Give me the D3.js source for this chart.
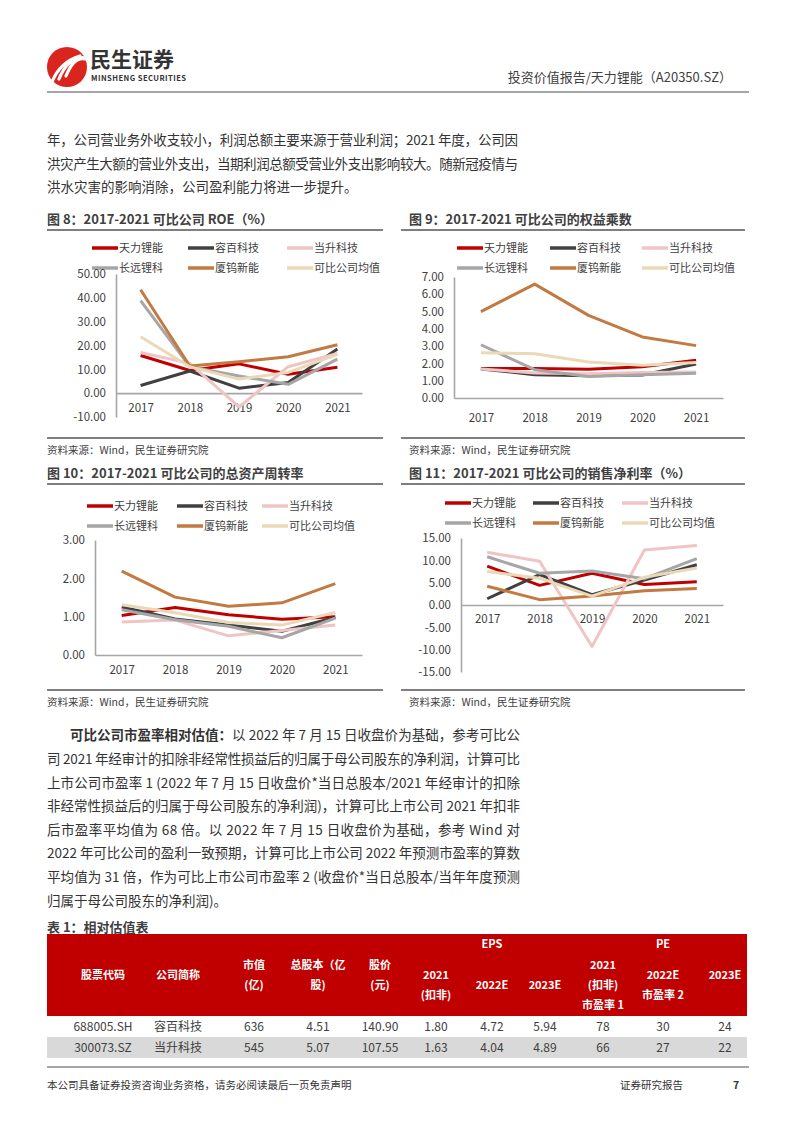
<!DOCTYPE html>
<html>
<head>
<meta charset="utf-8">
<script src="https://cdn.jsdelivr.net/npm/d3@7"></script>
<style>
body { margin: 0; background: #fff; }
svg { display: block; font-family: "Noto Sans CJK SC", "Noto Sans", sans-serif; }
</style>
</head>
<body>
<main></main>
<script>
// ---- data ----
const YEARS = ["2017", "2018", "2019", "2020", "2021"];
const COMPANIES = ["天力锂能", "容百科技", "当升科技", "长远锂科", "厦钨新能", "可比公司均值"];
const COLORS = ["#c00000", "#404040", "#f0c4c4", "#a6a6a6", "#c27a42", "#ead8b6"];

// order follows COMPANIES
const ROE = [
    [15.8, 9.5, 12.3, 7.9, 10.9],
    [3.2, 9.3, 2.1, 4.5, 18.5],
    [17.1, 12.5, -5.8, 11.1, 16.7],
    [38.8, 11.1, 7.2, 3.7, 14.3],
    [43.4, 11.4, 13.2, 15.3, 20.3],
    [23.7, 11.1, 5.9, 8.7, 16.3]
];
const EQUITY_MULT = [
    [1.71, 1.71, 1.66, 1.81, 2.18],
    [1.68, 1.35, 1.29, 1.33, 1.97],
    [1.68, 1.45, 1.41, 1.48, 1.50],
    [3.08, 1.64, 1.25, 1.35, 1.43],
    [5.00, 6.59, 4.78, 3.53, 3.03],
    [2.62, 2.56, 2.08, 1.89, 2.06]
];
const ASSET_TURN = [
    [1.03, 1.24, 1.05, 0.93, 1.00],
    [1.25, 0.94, 0.78, 0.62, 0.98],
    [0.86, 0.91, 0.50, 0.64, 0.78],
    [1.18, 0.92, 0.75, 0.45, 0.96],
    [2.19, 1.51, 1.27, 1.36, 1.86],
    [1.31, 1.10, 0.85, 0.78, 1.11]
];
const NET_MARGIN = [
    [8.7, 4.4, 7.1, 4.6, 5.2],
    [1.4, 6.8, 2.3, 5.6, 9.0],
    [11.8, 9.8, -9.3, 12.3, 13.3],
    [10.8, 7.1, 7.6, 5.9, 10.4],
    [4.2, 1.2, 2.0, 3.2, 3.7],
    [7.5, 6.0, 2.0, 6.2, 8.3]
];

const ROE_TICKS = [-10, 0, 10, 20, 30, 40, 50];
const EM_TICKS = [0, 1, 2, 3, 4, 5, 6, 7];
const AT_TICKS = [0, 1, 2, 3];
const NM_TICKS = [-15, -10, -5, 0, 5, 10, 15];

const TABLE_HEAD = ["股票代码", "公司简称", "市值|(亿)", "总股本（亿|股)", "股价|(元)", "2021|(扣非)", "2022E", "2023E", "2021|(扣非)|市盈率 1", "2022E|市盈率 2", "2023E"];
const TABLE_ROWS = [
    ["688005.SH", "容百科技", "636", "4.51", "140.90", "1.80", "4.72", "5.94", "78", "30", "24"],
    ["300073.SZ", "当升科技", "545", "5.07", "107.55", "1.63", "4.04", "4.89", "66", "27", "22"]
];

const TEXT_DARK = "#404040";
const AXIS_COLOR = "#a6a6a6";

var svg = d3.select("main").append("svg")
            .attr("width", 793)
            .attr("height", 1122);

function drawHeader () {
    // logo
    var logo = svg.append("g");
    logo.append("circle")
        .attr("cx", 67).attr("cy", 67).attr("r", 20)
        .style("fill", "#d9251d");
    [[0, 0], [7, 3], [14, 6]].forEach(function (o) {
        logo.append("path")
            .attr("d", "M" + (52 + o[0]) + "," + (82 - o[1]) +
                       " Q" + (60 + o[0]) + "," + (62 - o[1]) + " " + (80 + o[0] * 0.4) + "," + (56 + o[1] * 0.5))
            .style("fill", "none")
            .style("stroke", "white")
            .style("stroke-width", 3.2)
            .style("stroke-linecap", "round");
    });
    logo.append("text")
        .text("民生证券")
        .attr("x", 90).attr("y", 67)
        .attr("font-size", 21)
        .attr("font-weight", "bold")
        .style("fill", "#333");
    logo.append("text")
        .text("MINSHENG SECURITIES")
        .attr("x", 91).attr("y", 81)
        .attr("font-size", 7.6)
        .attr("font-weight", "bold")
        .attr("textLength", 95)
        .style("fill", "#333");

    svg.append("text")
       .text("投资价值报告/天力锂能（A20350.SZ）")
       .attr("x", 732).attr("y", 82)
       .attr("font-size", 13)
       .style("text-anchor", "end")
       .style("fill", TEXT_DARK);

    svg.append("line")
       .attr("x1", 47).attr("x2", 749).attr("y1", 92).attr("y2", 92)
       .style("stroke", "#888").style("stroke-width", 1.5);

    // footer
    svg.append("line")
       .attr("x1", 47).attr("x2", 749).attr("y1", 1067).attr("y2", 1067)
       .style("stroke", "#888").style("stroke-width", 1.5);
    svg.append("text")
       .text("本公司具备证券投资咨询业务资格，请务必阅读最后一页免责声明")
       .attr("x", 47).attr("y", 1089)
       .attr("font-size", 10.5)
       .style("fill", "#333");
    svg.append("text")
       .text("证券研究报告")
       .attr("x", 620).attr("y", 1089)
       .attr("font-size", 10.5)
       .style("fill", "#333");
    svg.append("text")
       .text("7")
       .attr("x", 733).attr("y", 1089)
       .attr("font-size", 10.5)
       .attr("font-weight", "bold")
       .style("fill", "#333");
}

function drawParagraphs () {
    var p1 = [
        "年，公司营业务外收支较小，利润总额主要来源于营业利润；2021 年度，公司因",
        "洪灾产生大额的营业外支出，当期利润总额受营业外支出影响较大。随新冠疫情与",
        "洪水灾害的影响消除，公司盈利能力将进一步提升。"
    ];
    p1.forEach(function (s, i) {
        var t = svg.append("text")
                   .text(s)
                   .attr("x", 47).attr("y", 145 + i * 23.5)
                   .attr("font-size", 13.5)
                   .style("fill", "#333");
        if (i < 2) t.attr("textLength", 471).attr("lengthAdjust", "spacing");
    });

    svg.append("text")
       .text("可比公司市盈率相对估值：")
       .attr("x", 70).attr("y", 740)
       .attr("font-size", 13.5)
       .attr("font-weight", "bold")
       .style("fill", "#333");
    svg.append("text")
       .text("以 2022 年 7 月 15 日收盘价为基础，参考可比公")
       .attr("x", 232).attr("y", 740)
       .attr("font-size", 13.5)
       .attr("textLength", 288).attr("lengthAdjust", "spacing")
       .style("fill", "#333");

    var p2 = [
        "司 2021 年经审计的扣除非经常性损益后的归属于母公司股东的净利润，计算可比",
        "上市公司市盈率 1 (2022 年 7 月 15 日收盘价*当日总股本/2021 年经审计的扣除",
        "非经常性损益后的归属于母公司股东的净利润)，计算可比上市公司 2021 年扣非",
        "后市盈率平均值为 68 倍。以 2022 年 7 月 15 日收盘价为基础，参考 Wind 对",
        "2022 年可比公司的盈利一致预期，计算可比上市公司 2022 年预测市盈率的算数",
        "平均值为 31 倍，作为可比上市公司市盈率 2 (收盘价*当日总股本/当年年度预测",
        "归属于母公司股东的净利润)。"
    ];
    p2.forEach(function (s, i) {
        var t = svg.append("text")
                   .text(s)
                   .attr("x", 47).attr("y", 764 + i * 23.6)
                   .attr("font-size", 13.5)
                   .style("fill", "#333");
        if (i < 6) t.attr("textLength", 473).attr("lengthAdjust", "spacing");
    });
}

function drawLineChart (cfg, data) {
    var g = svg.append("g");

    // title and rules
    g.append("text")
     .text(cfg.title)
     .attr("x", cfg.titleX).attr("y", cfg.titleY)
     .attr("font-size", 13)
     .attr("font-weight", "bold")
     .style("fill", TEXT_DARK);
    g.append("line")
     .attr("x1", cfg.ruleX1).attr("x2", cfg.ruleX2)
     .attr("y1", cfg.titleY + 6).attr("y2", cfg.titleY + 6)
     .style("stroke", "#555").style("stroke-width", 1.5);
    g.append("line")
     .attr("x1", cfg.ruleX1).attr("x2", cfg.ruleX2)
     .attr("y1", cfg.sourceY - 12).attr("y2", cfg.sourceY - 12)
     .style("stroke", "#555").style("stroke-width", 1.5);
    g.append("text")
     .text("资料来源：Wind，民生证券研究院")
     .attr("x", cfg.titleX).attr("y", cfg.sourceY + 4)
     .attr("font-size", 10.5)
     .style("fill", TEXT_DARK);

    // legend: 3 columns x 2 rows
    COMPANIES.forEach(function (name, i) {
        var lx = cfg.legendX[i % 3];
        var ly = cfg.legendY[Math.floor(i / 3)];
        g.append("line")
         .attr("x1", lx).attr("x2", lx + 26)
         .attr("y1", ly).attr("y2", ly)
         .style("stroke", COLORS[i])
         .style("stroke-width", 3.5);
        g.append("text")
         .text(name)
         .attr("x", lx + 27).attr("y", ly + 4)
         .attr("font-size", 11)
         .style("fill", TEXT_DARK);
    });

    var x = d3.scalePoint().domain(YEARS).range([cfg.left, cfg.right]).padding(0.5);
    var y = d3.scaleLinear().domain([cfg.ticks[0], cfg.ticks[cfg.ticks.length - 1]]).range([cfg.bottom, cfg.top]);

    var gy = g.append("g")
              .attr("transform", "translate(" + cfg.left + ",0)")
              .call(d3.axisLeft(y).tickValues(cfg.ticks).tickSize(0).tickPadding(10)
                      .tickFormat(function (d) { return d.toFixed(2); }));
    gy.select(".domain").style("stroke", AXIS_COLOR).style("stroke-width", 1.6);
    gy.selectAll("text").attr("font-size", 11.5).style("fill", TEXT_DARK)
      .style("font-family", "\"Noto Sans CJK SC\", sans-serif");

    var gx = g.append("g")
              .attr("transform", "translate(0," + y(0) + ")")
              .call(d3.axisBottom(x).tickSize(0).tickPadding(cfg.yearPad));
    gx.select(".domain").style("stroke", AXIS_COLOR).style("stroke-width", 1.6);
    gx.selectAll("text").attr("font-size", 11.5).style("fill", TEXT_DARK)
      .style("font-family", "\"Noto Sans CJK SC\", sans-serif");

    var line = d3.line()
                 .x(function (d, i) { return x(YEARS[i]); })
                 .y(function (d) { return y(d); });

    data.forEach(function (vals, i) {
        g.append("path")
         .datum(vals)
         .attr("d", line)
         .style("fill", "none")
         .style("stroke", COLORS[i])
         .style("stroke-width", 3)
         .style("stroke-linejoin", "round");
    });
}

function drawTable () {
    svg.append("text")
       .text("表 1：相对估值表")
       .attr("x", 47).attr("y", 932)
       .attr("font-size", 13)
       .attr("font-weight", "bold")
       .style("fill", TEXT_DARK);

    var colX = [103, 178, 254, 318, 380, 436, 492, 545, 603, 663, 725];
    // vertical centre of the first header line in each column
    var firstY = [975, 975, 965, 965, 965, 975, 985, 985, 965, 975, 975];
    var top = 934, headH = 82, rowH = 21;

    svg.append("rect")
       .attr("x", 47).attr("y", top).attr("width", 700).attr("height", headH)
       .style("fill", "#c00000");

    var head = svg.append("g")
                  .attr("font-size", 11)
                  .attr("font-weight", "bold")
                  .style("fill", "white")
                  .style("text-anchor", "middle");

    head.append("text").text("EPS").attr("x", 492).attr("y", 948);
    head.append("text").text("PE").attr("x", 663).attr("y", 948);

    TABLE_HEAD.forEach(function (h, i) {
        h.split("|").forEach(function (p, j) {
            head.append("text")
                .text(p)
                .attr("x", colX[i])
                .attr("y", firstY[i] + j * 20 + 4);
        });
    });

    TABLE_ROWS.forEach(function (row, r) {
        var ry = top + headH + r * rowH;
        svg.append("rect")
           .attr("x", 47).attr("y", ry).attr("width", 700).attr("height", rowH)
           .style("fill", r === 1 ? "#d9d9d9" : "white");
        row.forEach(function (cell, i) {
            svg.append("text")
               .text(cell)
               .attr("x", colX[i])
               .attr("y", ry + 15)
               .attr("font-size", 12)
               .style("text-anchor", "middle")
               .style("fill", TEXT_DARK);
        });
    });
}

drawHeader();
drawParagraphs();

drawLineChart({
    title: "图 8：2017-2021 可比公司 ROE（%）",
    titleX: 47, titleY: 224, ruleX1: 47, ruleX2: 383, sourceY: 450,
    legendX: [92, 188, 287], legendY: [248, 268],
    left: 116, right: 362, top: 274, bottom: 417, yearPad: 11,
    ticks: ROE_TICKS
}, ROE);

drawLineChart({
    title: "图 9：2017-2021 可比公司的权益乘数",
    titleX: 409, titleY: 224, ruleX1: 401, ruleX2: 745, sourceY: 450,
    legendX: [457, 550, 642], legendY: [248, 268],
    left: 454, right: 723, top: 277, bottom: 398, yearPad: 16,
    ticks: EM_TICKS
}, EQUITY_MULT);

drawLineChart({
    title: "图 10：2017-2021 可比公司的总资产周转率",
    titleX: 47, titleY: 478, ruleX1: 47, ruleX2: 383, sourceY: 702,
    legendX: [87, 177, 262], legendY: [506, 526],
    left: 95, right: 362, top: 540, bottom: 655, yearPad: 11,
    ticks: AT_TICKS
}, ASSET_TURN);

drawLineChart({
    title: "图 11：2017-2021 可比公司的销售净利率（%）",
    titleX: 409, titleY: 478, ruleX1: 401, ruleX2: 745, sourceY: 702,
    legendX: [445, 533, 622], legendY: [503, 523],
    left: 461, right: 723, top: 538, bottom: 672, yearPad: 10,
    ticks: NM_TICKS
}, NET_MARGIN);

drawTable();
</script>
</body>
</html>
